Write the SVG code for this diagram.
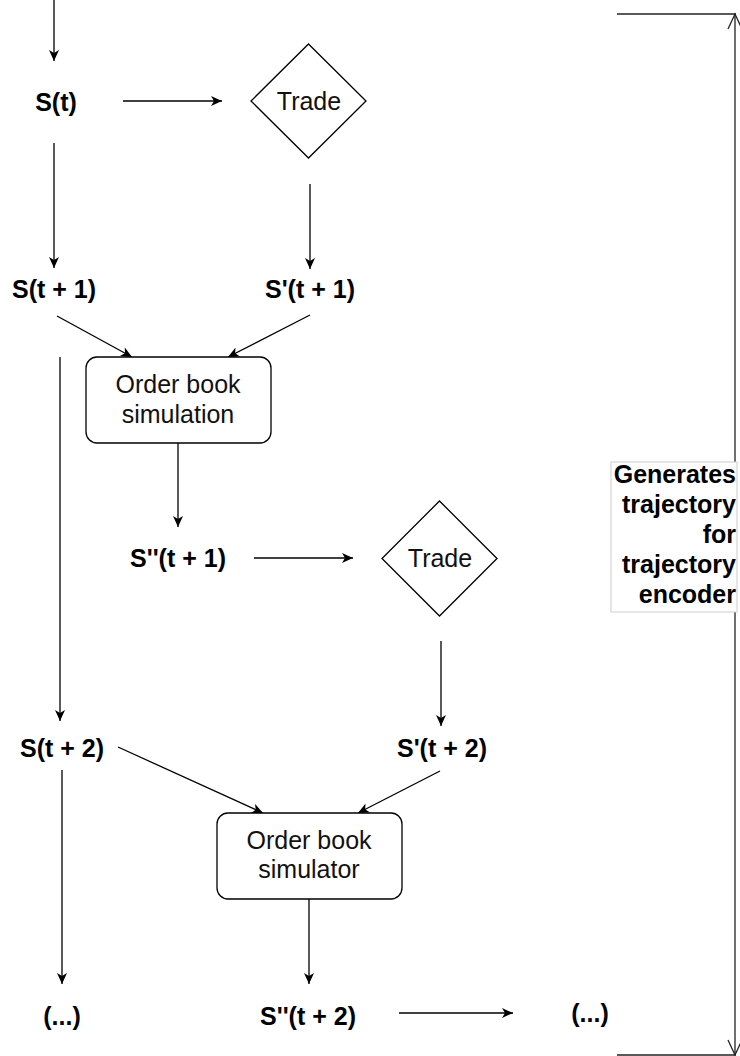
<svg xmlns="http://www.w3.org/2000/svg" width="740" height="1056" viewBox="0 0 740 1056">
  <style>
    .lbl { font-family: "Liberation Sans", Arial, sans-serif; font-size: 25px; font-weight: bold; fill: #000; text-anchor: middle; }
    .txt { font-family: "Liberation Sans", Arial, sans-serif; font-size: 25px; fill: #111; text-anchor: middle; }
    .note { font-family: "Liberation Sans", Arial, sans-serif; font-size: 25px; font-weight: bold; fill: #000; text-anchor: end; }
    .shape { fill: #fff; stroke: #000; stroke-width: 1.3; }
    .edge { fill: none; stroke: #000; stroke-width: 1.3; marker-end: url(#arrow); }
    .span { fill: none; stroke: #222; stroke-width: 1.3; }
  </style>
  <defs>
    <marker id="arrow" markerUnits="userSpaceOnUse" markerWidth="12" markerHeight="10" refX="11" refY="5" orient="auto">
      <path d="M0,0 L11,5 L0,10 L3,5 z" fill="#000"/>
    </marker>
    <marker id="open" markerUnits="userSpaceOnUse" markerWidth="18" markerHeight="18" refX="16" refY="8" orient="auto-start-reverse">
      <path d="M1,1 L16,8 L1,15" fill="none" stroke="#222" stroke-width="1.3"/>
    </marker>
  </defs>

  <!-- connectors -->
  <g id="connectors">
    <line class="edge" x1="54" y1="0" x2="54" y2="61"/>
    <line class="edge" x1="123" y1="101" x2="222" y2="101"/>
    <line class="edge" x1="54" y1="143" x2="54" y2="268"/>
    <line class="edge" x1="310" y1="184" x2="310" y2="269"/>
    <line class="edge" x1="57" y1="316" x2="132" y2="357"/>
    <line class="edge" x1="310" y1="315" x2="228" y2="357"/>
    <line class="edge" x1="60" y1="357" x2="60" y2="721"/>
    <line class="edge" x1="178" y1="443" x2="178" y2="527"/>
    <line class="edge" x1="254" y1="558" x2="353" y2="558"/>
    <line class="edge" x1="441" y1="641" x2="441" y2="726"/>
    <line class="edge" x1="118" y1="747" x2="263" y2="813"/>
    <line class="edge" x1="440" y1="771" x2="358" y2="813"/>
    <line class="edge" x1="62" y1="770" x2="62" y2="984"/>
    <line class="edge" x1="309" y1="899" x2="309" y2="984"/>
    <line class="edge" x1="399" y1="1013" x2="513" y2="1013"/>
  </g>

  <!-- span bracket on the right -->
  <g id="span">
    <line class="span" x1="617" y1="14" x2="736" y2="14"/>
    <line class="span" x1="617" y1="1055" x2="736" y2="1055"/>
    <line class="span" x1="735" y1="14" x2="735" y2="1055" marker-start="url(#open)" marker-end="url(#open)"/>
  </g>

  <g id="st"><text class="lbl" x="56" y="111">S(t)</text></g>
  <g id="trade1">
    <polygon class="shape" points="308.5,44 366,101 308.5,158 251,101"/>
    <text class="txt" x="309" y="110">Trade</text>
  </g>
  <g id="st1"><text class="lbl" x="54" y="298">S(t + 1)</text></g>
  <g id="spt1"><text class="lbl" x="310" y="298">S'(t + 1)</text></g>
  <g id="obsim1">
    <rect class="shape" x="86" y="357" width="185" height="86" rx="11" ry="11"/>
    <text class="txt" x="178" y="393">Order book</text>
    <text class="txt" x="178" y="423">simulation</text>
  </g>
  <g id="sppt1"><text class="lbl" x="178" y="567">S''(t + 1)</text></g>
  <g id="trade2">
    <polygon class="shape" points="439.5,501 497,558.5 439.5,616 382,558.5"/>
    <text class="txt" x="440" y="567">Trade</text>
  </g>
  <g id="st2"><text class="lbl" x="62" y="757">S(t + 2)</text></g>
  <g id="spt2"><text class="lbl" x="442" y="757">S'(t + 2)</text></g>
  <g id="obsim2">
    <rect class="shape" x="217" y="813" width="185" height="86" rx="11" ry="11"/>
    <text class="txt" x="309" y="849">Order book</text>
    <text class="txt" x="309" y="878">simulator</text>
  </g>
  <g id="more1"><text class="lbl" x="62" y="1025">(...)</text></g>
  <g id="sppt2"><text class="lbl" x="308" y="1025">S''(t + 2)</text></g>
  <g id="more2"><text class="lbl" x="590" y="1022">(...)</text></g>

  <g id="note">
    <rect x="611" y="462" width="126" height="150" fill="#fff" stroke="#ccc" stroke-width="1"/>
    <text class="note" x="736" y="483">Generates</text>
    <text class="note" x="736" y="513">trajectory</text>
    <text class="note" x="736" y="543">for</text>
    <text class="note" x="736" y="573">trajectory</text>
    <text class="note" x="736" y="603">encoder</text>
  </g>
</svg>
